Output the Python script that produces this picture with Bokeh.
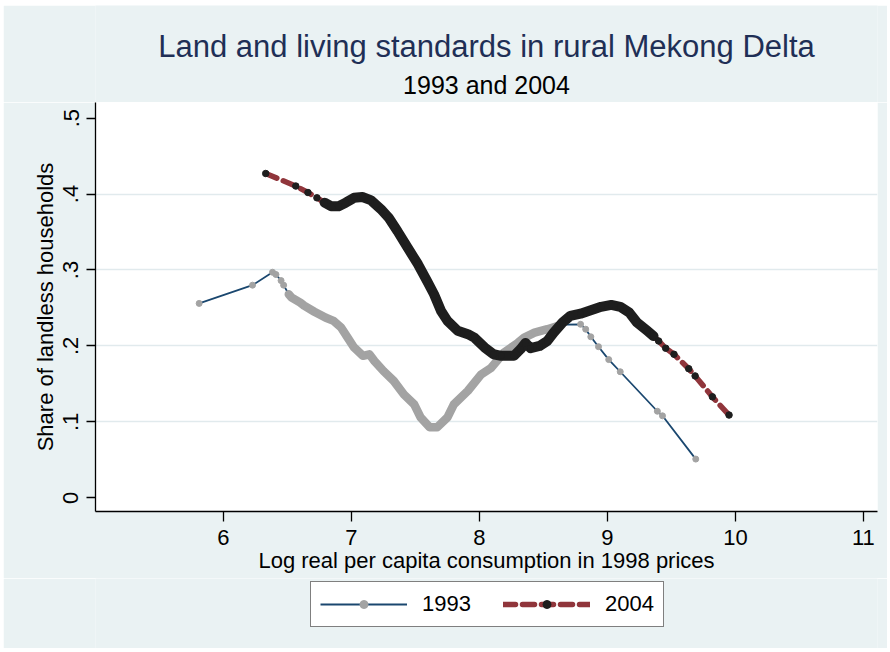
import numpy as np
from bokeh.plotting import figure
from bokeh.models import Range1d, Legend, LegendItem, FixedTicker, Spacer
from bokeh.layouts import column, row
from bokeh.core.properties import value
from bokeh.embed import file_html
from bokeh.resources import INLINE

# ---------------- data ----------------
x93 = [5.81, 6.227, 6.383, 6.41, 6.45, 6.47, 6.51, 6.53, 6.60, 6.63, 6.71, 6.80,
       6.86, 6.92, 6.97, 7.02, 7.09, 7.14, 7.18, 7.25, 7.33, 7.41, 7.49, 7.54,
       7.61, 7.67, 7.75, 7.80, 7.91, 8.01, 8.09, 8.19, 8.30, 8.35, 8.43, 8.53,
       8.61, 8.64, 8.79, 8.83, 8.87, 8.93, 9.01, 9.10, 9.39, 9.43, 9.69]
y93 = [0.256, 0.280, 0.297, 0.294, 0.286, 0.280, 0.268, 0.264, 0.257, 0.253, 0.245, 0.237,
       0.233, 0.224, 0.211, 0.198, 0.187, 0.189, 0.180, 0.167, 0.154, 0.136, 0.123, 0.106,
       0.093, 0.093, 0.106, 0.123, 0.141, 0.162, 0.171, 0.191, 0.204, 0.211, 0.2175, 0.222,
       0.226, 0.228, 0.2285, 0.222, 0.212, 0.199, 0.182, 0.166, 0.114, 0.108, 0.051]
dense93 = (6.50, 8.62)   # x-range where 1993 observations are densely packed

x04 = [6.33, 6.565, 6.66, 6.73, 6.79, 6.84, 6.90, 6.955, 7.02, 7.085, 7.15, 7.23,
       7.29, 7.36, 7.44, 7.52, 7.59, 7.645, 7.70, 7.75, 7.83, 7.91, 7.96, 8.04,
       8.11, 8.17, 8.27, 8.32, 8.36, 8.40, 8.47, 8.53, 8.58, 8.65, 8.71, 8.79,
       8.87, 8.95, 9.03, 9.10, 9.17, 9.23, 9.31, 9.36, 9.40, 9.455, 9.52, 9.635,
       9.685, 9.82, 9.95]
y04 = [0.427, 0.4105, 0.402, 0.395, 0.3886, 0.384, 0.384, 0.3886, 0.395, 0.396, 0.392, 0.380,
       0.369, 0.351, 0.329, 0.3075, 0.2855, 0.268, 0.246, 0.233, 0.220, 0.2155, 0.211, 0.198,
       0.189, 0.187, 0.187, 0.1955, 0.204, 0.197, 0.200, 0.2065, 0.2175, 0.231, 0.2395, 0.2425,
       0.247, 0.2515, 0.254, 0.2515, 0.244, 0.231, 0.220, 0.213, 0.2065, 0.197, 0.189, 0.170,
       0.1605, 0.133, 0.109]
dense04 = (6.75, 9.37)   # x-range where 2004 observations are densely packed

xticks = [6, 7, 8, 9, 10, 11]
yticks = [0, 0.1, 0.2, 0.3, 0.4, 0.5]
ylabels = ["0", ".1", ".2", ".3", ".4", ".5"]
ygrid = [0.1, 0.2, 0.3, 0.4]

title = "Land and living standards in rural Mekong Delta"
subtitle = "1993 and 2004"
xtitle = "Log real per capita consumption in 1998 prices"
ytitle = "Share of landless households"
series = ["1993", "2004"]

# ---------------- styling ----------------
BG = "#EAF2F3"
NAVY = "#1A476F"
MAROON = "#90353B"
GRAY = "#A3A3A3"
BLACK = "#1E1E1E"
TITLE_C = "#1F2F56"
FONT = "Liberation Sans"
W = 884

sty93_line = dict(line_color=NAVY, line_width=1.8)
sty93_pt = dict(size=6, fill_color=GRAY, line_color=GRAY)
sty04_line = dict(line_color=MAROON, line_width=5.5, line_dash="12 7", line_cap="round")
sty04_pt = dict(size=6.5, fill_color=BLACK, line_color=BLACK)

# ---------------- main plot ----------------
p = figure(width=W, height=476, output_backend="svg", toolbar_location=None,
           x_range=Range1d(5.0, 11.11), y_range=Range1d(-0.018, 0.5205),
           min_border_left=92, min_border_right=10, min_border_top=0, min_border_bottom=67,
           background_fill_color="white", border_fill_color=BG, outline_line_color=None)

p.xaxis.ticker = FixedTicker(ticks=xticks)
p.yaxis.ticker = FixedTicker(ticks=yticks)
p.yaxis.major_label_overrides = {t: l for t, l in zip(yticks, ylabels)}
p.yaxis.major_label_orientation = "vertical"
for ax in (p.xaxis, p.yaxis):
    ax.axis_line_color = "black"
    ax.axis_line_width = 1.3
    ax.major_tick_line_color = "black"
    ax.major_tick_line_width = 1.3
    ax.major_tick_in = 0
    ax.minor_tick_line_color = None
    ax.major_label_text_font = FONT
    ax.major_label_text_font_size = "22px"
    ax.major_label_text_color = "black"
    ax.axis_label_text_font = FONT
    ax.axis_label_text_font_size = "22px"
    ax.axis_label_text_font_style = "normal"
    ax.axis_label_text_color = "black"
p.xaxis.major_tick_out = 10
p.yaxis.major_tick_out = 9
p.xaxis.major_label_standoff = 8
p.yaxis.major_label_standoff = 8
p.xaxis.axis_label_standoff = 0
p.yaxis.axis_label_standoff = 3
p.xaxis.axis_label = xtitle
p.yaxis.axis_label = ytitle

p.xgrid.grid_line_color = None
p.ygrid.ticker = FixedTicker(ticks=ygrid)
p.ygrid.grid_line_color = "#E1EAED"
p.ygrid.grid_line_width = 1.5

x93a, y93a = np.array(x93), np.array(y93)
m93 = (x93a >= dense93[0]) & (x93a <= dense93[1])
p.line(x93, y93, **sty93_line)
p.line(x93a[m93], y93a[m93], line_color=GRAY, line_width=8.5, line_join="round", line_cap="round")
p.scatter(x93, y93, **sty93_pt)

x04a, y04a = np.array(x04), np.array(y04)
m04 = (x04a >= dense04[0]) & (x04a <= dense04[1])
p.line(x04, y04, **sty04_line)
p.line(x04a[m04], y04a[m04], line_color=BLACK, line_width=10, line_join="round", line_cap="round")
p.scatter(x04, y04, **sty04_pt)


def strip(h, y_range):
    # frames of stacked figures are aligned with the main plot's frame
    f = figure(width=W, height=h, output_backend="svg", toolbar_location=None,
               x_range=p.x_range, y_range=y_range,
               x_axis_type=None, y_axis_type=None,
               min_border_left=0, min_border_right=0, min_border_top=0, min_border_bottom=0,
               background_fill_color=BG, border_fill_color=BG, outline_line_color=None)
    f.xgrid.visible = False
    f.ygrid.visible = False
    return f


xc = (p.x_range.start + p.x_range.end) / 2

# ---------------- title strip (pixel-unit y range) ----------------
T = strip(97, Range1d(0, 97))
T.text(x=[xc], y=[56.3], text=[title], text_align="center", text_baseline="alphabetic",
       text_font=value(FONT), text_font_size=value("31px"), text_color=TITLE_C)
T.text(x=[xc], y=[18], text=[subtitle], text_align="center", text_baseline="alphabetic",
       text_font=value(FONT), text_font_size=value("25px"), text_color="black")

# ---------------- legend strip ----------------
# the key renderers hold the series but lie below this strip's visible y range
L = strip(70, Range1d(10, 80))
k93 = [L.line(x93, y93, **sty93_line), L.scatter(x93, y93, **sty93_pt)]
k04 = [L.line(x04, y04, **sty04_line), L.scatter(x04, y04, **sty04_pt)]
legend = Legend(items=[LegendItem(label=series[0], renderers=k93),
                       LegendItem(label=series[1], renderers=k04)],
                orientation="horizontal", location=(215, 21),
                border_line_color="black", border_line_width=1.5,
                background_fill_color="white", background_fill_alpha=1.0,
                padding=9, margin=0, spacing=32, glyph_width=87, glyph_height=20,
                label_standoff=15, label_text_font=FONT, label_text_font_size="22px",
                label_text_color="black")
L.add_layout(legend, "center")

page = column(Spacer(height=5), row(Spacer(width=3), column(T, p, L)))
open("out.html", "w").write(file_html(page, INLINE))
